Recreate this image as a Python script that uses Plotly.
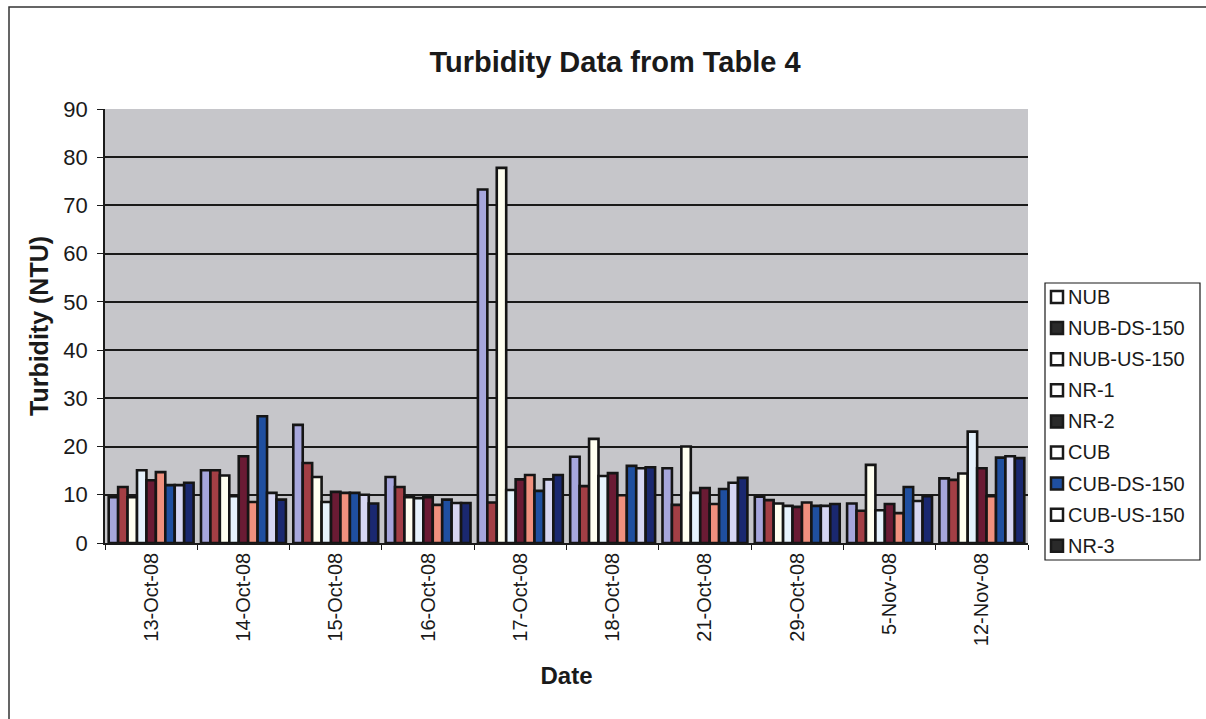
import plotly.graph_objects as go

# Sampling dates (categories)
dates = ["13-Oct-08", "14-Oct-08", "15-Oct-08", "16-Oct-08", "17-Oct-08",
         "18-Oct-08", "21-Oct-08", "29-Oct-08", "5-Nov-08", "12-Nov-08"]

# Turbidity (NTU) per station
nub        = [9.5, 15.1, 24.5, 13.7, 73.3, 17.9, 15.5, 9.6, 8.2, 13.4]
nub_ds_150 = [11.6, 15.1, 16.6, 11.6, 8.4, 11.8, 7.9, 8.9, 6.7, 13.1]
nub_us_150 = [9.5, 14.0, 13.7, 9.5, 77.8, 21.6, 20.0, 8.2, 16.2, 14.4]
nr_1       = [15.1, 9.7, 8.5, 9.3, 11.0, 13.9, 10.4, 7.7, 6.8, 23.1]
nr_2       = [13.0, 18.0, 10.6, 9.5, 13.2, 14.5, 11.4, 7.5, 8.1, 15.5]
cub        = [14.7, 8.5, 10.4, 7.9, 14.1, 9.9, 8.1, 8.4, 6.2, 9.7]
cub_ds_150 = [12.0, 26.3, 10.4, 9.0, 10.8, 16.0, 11.2, 7.7, 11.6, 17.7]
cub_us_150 = [12.0, 10.4, 10.0, 8.3, 13.2, 15.5, 12.5, 7.7, 8.7, 18.0]
nr_3       = [12.5, 9.0, 8.2, 8.3, 14.1, 15.7, 13.5, 8.1, 9.7, 17.6]

series_names = ["NUB", "NUB-DS-150", "NUB-US-150", "NR-1", "NR-2",
                "CUB", "CUB-DS-150", "CUB-US-150", "NR-3"]
series_values = [nub, nub_ds_150, nub_us_150, nr_1, nr_2,
                 cub, cub_ds_150, cub_us_150, nr_3]
bar_colors = ["#A6A6DC", "#A33F45", "#FFFFF0", "#E6F2FC", "#6A1B34",
              "#F0907E", "#1F4FA0", "#D6D6F2", "#1A2870"]
legend_colors = ["#FFFFFF", "#2A2A2A", "#FFFFFF", "#FFFFFF", "#2A2A2A",
                 "#FFFFFF", "#1F4FA0", "#FFFFFF", "#2A2A2A"]

FONT = "Liberation Sans, Arial, sans-serif"
INK = "#1A1A1A"

W, H = 1206, 719
L, R, T, B = 105, 178, 109, 176
PW, PH = W - L - R, H - T - B


def px(x):
    """Pixel x -> paper x."""
    return (x - L) / PW


def py(y):
    """Pixel y (from top) -> paper y."""
    return (H - B - y) / PH


fig = go.Figure()

for name, vals, col in zip(series_names, series_values, bar_colors):
    fig.add_trace(go.Bar(
        x=dates, y=vals, name=name, showlegend=False,
        marker=dict(color=col, line=dict(color="#151515", width=2.6)),
    ))

fig.update_layout(
    width=W, height=H,
    margin=dict(l=L, r=R, t=T, b=B),
    paper_bgcolor="white",
    plot_bgcolor="#C6C6CA",
    barmode="group",
    bargap=0.08,
    bargroupgap=0.0,
    showlegend=False,
    font=dict(family=FONT, color=INK, size=20),
    title=dict(text="<b>Turbidity Data from Table 4</b>",
               x=615 / W, xref="container", xanchor="center",
               y=1 - 62 / H, yref="container", yanchor="middle",
               font=dict(size=29, family=FONT, color=INK)),
    xaxis=dict(
        type="category",
        tickangle=-90,
        showline=True, linecolor=INK, linewidth=1.5,
        ticks="outside", tickson="boundaries", ticklen=5,
        tickcolor=INK,
        showgrid=False,
        tickfont=dict(size=20, family=FONT),
        title=dict(text="<b>Date</b>", standoff=22,
                   font=dict(size=24, family=FONT)),
    ),
    yaxis=dict(
        range=[0, 90], dtick=10,
        showline=True, linecolor=INK, linewidth=1.5,
        ticks="outside", ticklen=6, tickcolor=INK,
        ticklabelstandoff=5,
        showgrid=True, gridcolor=INK, gridwidth=1.6,
        zeroline=False,
        tickfont=dict(size=22, family=FONT),
        title=dict(text="<b>Turbidity (NTU)</b>", standoff=8,
                   font=dict(size=25, family=FONT)),
    ),
)

# Chart-area frame
fig.add_shape(type="rect", xref="paper", yref="paper",
              x0=px(9), x1=px(W + 10), y0=py(H + 10), y1=py(7),
              line=dict(color="#333333", width=1.5),
              fillcolor="rgba(0,0,0,0)", layer="below")

# Legend box with one swatch and label per series
fig.add_shape(type="rect", xref="paper", yref="paper",
              x0=px(1045), x1=px(1200), y0=py(560), y1=py(283),
              line=dict(color=INK, width=1.2), fillcolor="white")
for i, (name, col) in enumerate(zip(series_names, legend_colors)):
    yc = 297 + i * 31.1
    fig.add_shape(type="rect", xref="paper", yref="paper",
                  x0=px(1051), x1=px(1063), y0=py(yc + 6), y1=py(yc - 6),
                  line=dict(color=INK, width=2.5), fillcolor=col)
    fig.add_annotation(text=name, xref="paper", yref="paper",
                       x=px(1066), y=py(yc), xanchor="left", yanchor="middle",
                       showarrow=False,
                       font=dict(size=20, family=FONT, color=INK))

fig.write_html("out.html")
